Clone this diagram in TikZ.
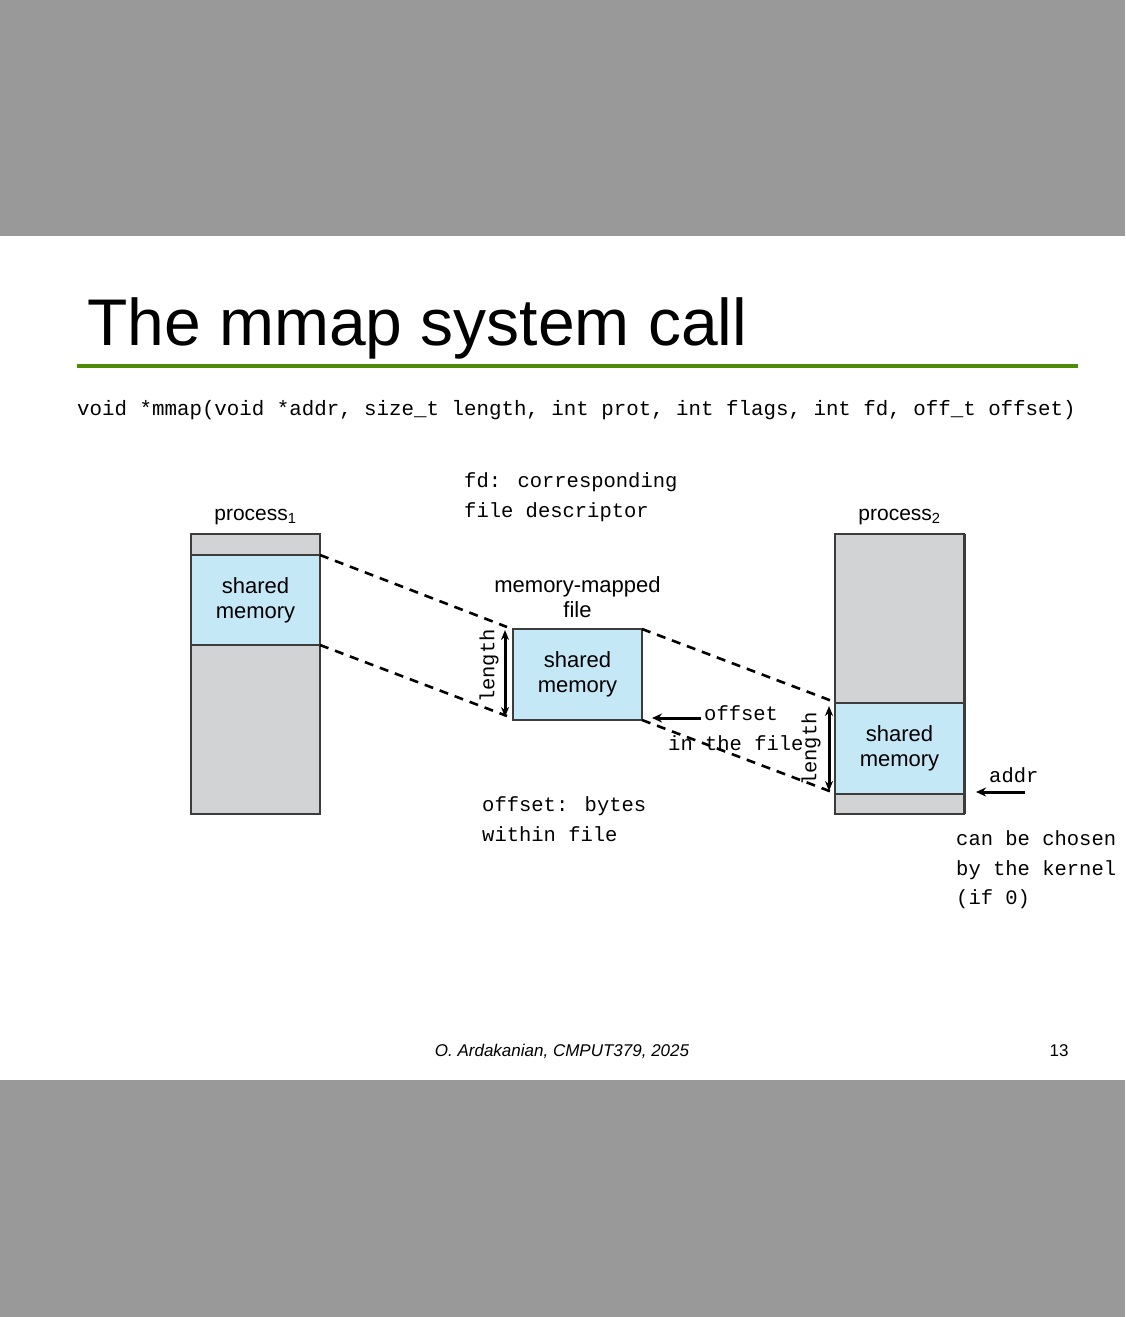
\documentclass[tikz,border=0pt]{standalone}
\usepackage{fontspec}
\setmainfont{Liberation Sans}
\newfontfamily\codefont{Liberation Mono}
\usepackage{xcolor}
\usetikzlibrary{positioning,arrows.meta}
\definecolor{bandgray}{RGB}{153,153,153}
\definecolor{memgray}{RGB}{209,211,212}
\definecolor{memblue}{RGB}{197,232,247}
\definecolor{edgegray}{RGB}{60,60,60}
\definecolor{rulegreen}{RGB}{78,140,8}

\tikzset{
    procbox/.style={draw=edgegray,line width=1.5pt,fill=memgray,anchor=north west,minimum width=129pt,inner sep=0pt,outer sep=0pt},
    shmem/.style={draw=edgegray,line width=1.5pt,fill=memblue,anchor=north west,minimum width=129pt,inner sep=0pt,outer sep=0pt,align=center,font=\fontsize{22}{25}\selectfont},
    sanslabel/.style={inner sep=0pt,font=\fontsize{21}{25}\selectfont},
    codelabel/.style={inner sep=0pt,align=left,font=\codefont\fontsize{20.5}{29.5}\selectfont},
    maplink/.style={dash pattern=on 9pt off 7pt,line width=2.6pt},
    lenarrow/.style={arrows={Stealth[length=10pt,width=8pt]-Stealth[length=10pt,width=8pt]}},
    ptr/.style={arrows={-Stealth[length=10pt,width=9pt]},line width=3pt}
}

\begin{document}
\begin{tikzpicture}[x=1pt,y=-1pt]
\useasboundingbox (0,0) rectangle (1125,1317);
\fill[white] (0,0) rectangle (1125,1317);
\fill[bandgray] (0,0) rectangle (1125,236);
\fill[bandgray] (0,1080) rectangle (1125,1317);

    \node[anchor=base west,inner sep=0pt,font=\fontsize{66}{70}\selectfont] (title) at (87,345) {The mmap system call};
    \draw[rulegreen,line width=4pt] (77,366) -- (1078,366);
    \node[anchor=base west,inner sep=0pt,font=\codefont\fontsize{20.8}{24}\selectfont] (proto) at (77,415) {void *mmap(void *addr, size\_t length, int prot, int flags, int fd, off\_t offset)};

    \node[procbox,minimum height=280pt] (proc1) at (191,534) [label={[sanslabel,yshift=9pt]above:process\textsubscript{1}}] {};
    \node[shmem,minimum height=90pt] (shm1) at (191,555) {shared\\memory\rule[-3pt]{0pt}{0pt}};

    \node[procbox,minimum height=280pt] (proc2) at (835,534) [label={[sanslabel,yshift=9pt]above:process\textsubscript{2}}] {};
    \draw[edgegray,line width=3pt] (proc2.north east) -- (proc2.south east);
    \node[shmem,minimum height=91pt] (shm2) at (835,703) {shared\\memory\rule[-3pt]{0pt}{0pt}};

    \node[shmem,minimum height=91pt] (file) at (513,629) {shared\\memory\rule[-3pt]{0pt}{0pt}};
    \node[sanslabel,align=center,font=\fontsize{22}{25}\selectfont,above=11pt of file] (filelbl) {memory-mapped\\file};

    \coordinate (f1top) at (507,627);
    \coordinate (f1bot) at (507,716);
    \coordinate (p2top) at (832,701);
    \coordinate (p2bot) at (832,792);
    \draw[maplink] (shm1.north east) -- (f1top);
    \draw[maplink] (shm1.south east) -- (f1bot);
    \draw[maplink] (file.north east) -- (p2top);
    \draw[maplink] (file.south east) -- (p2bot);

    \coordinate (len1a) at (505,630);
    \coordinate (len1b) at (505,717);
    \coordinate (len2a) at (829,706);
    \coordinate (len2b) at (829,791);
    \draw[lenarrow,line width=3pt] (len1a) -- (len1b);
    \draw[lenarrow,line width=3pt] (len2a) -- (len2b);
    \node[codelabel,rotate=90] (len1lbl) at (489,666) {length};
    \node[codelabel,rotate=90] (len2lbl) at (811,749) {length};

    \node[codelabel,anchor=west] (fdnote) at (464,497) {fd: corresponding\\file descriptor};
    \node[codelabel,anchor=west] (offnote) at (482,819) {offset: bytes\\within file};

    \node[codelabel,anchor=west] (offtxt) at (704,713) {offset};
    \node[codelabel,anchor=west] (intxt) at (668,743) {in the file};
    \coordinate (offtail) at (701,718);
    \draw[ptr] (offtail) -- ([xshift=10pt,yshift=2pt]file.south east);

    \node[codelabel,anchor=west] (addrtxt) at (989,775) {addr};
    \coordinate (addrtail) at (1025,792);
    \coordinate (addrtip) at (976,792);
    \draw[ptr] (addrtail) -- (addrtip);
    \node[codelabel,anchor=west] (kernnote) at (956,870) {can be chosen\\by the kernel\\(if 0)};

    \node[inner sep=0pt,font=\itshape\fontsize{17}{20}\selectfont] (footer) at (562,1051) {O. Ardakanian, CMPUT379, 2025};
    \node[inner sep=0pt,font=\fontsize{17}{20}\selectfont] (pagenum) at (1059,1051) {13};
\end{tikzpicture}
\end{document}
